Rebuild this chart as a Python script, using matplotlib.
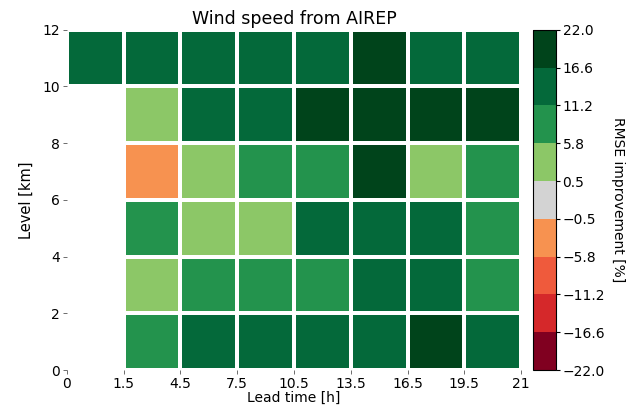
import numpy as np
import matplotlib.pyplot as plt
from matplotlib.colors import ListedColormap, BoundaryNorm

# bin edges (labels) for lead time and level
lead_edges = ['0', '1.5', '4.5', '7.5', '10.5', '13.5', '16.5', '19.5', '21']
level_edges = [0, 2, 4, 6, 8, 10, 12]

# RMSE improvement [%], rows from bottom (0-2 km) to top (10-12 km)
row_0_2 = [np.nan, 8.4, 13.9, 14.2, 13.1, 13.6, 18.3, 13.4]
row_2_4 = [np.nan, 3.9, 8.7, 9.1, 8.2, 12.4, 13.2, 8.8]
row_4_6 = [np.nan, 8.1, 4.2, 3.6, 13.8, 13.0, 12.6, 8.5]
row_6_8 = [np.nan, -2.7, 4.6, 9.2, 8.9, 18.6, 3.8, 8.6]
row_8_10 = [np.nan, 3.4, 14.1, 13.7, 19.2, 19.8, 18.9, 19.4]
row_10_12 = [13.2, 13.8, 14.0, 13.5, 13.3, 17.9, 13.6, 13.9]

bounds = [-22.0, -16.6, -11.2, -5.8, -0.5, 0.5, 5.8, 11.2, 16.6, 22.0]
colors = ['#800020', '#d5282a', '#ef5a3c', '#f79250', '#d3d3d3',
          '#8cc767', '#23934d', '#04693a', '#00441b']

data = np.array([row_0_2, row_2_4, row_4_6, row_6_8, row_8_10, row_10_12])
data = np.ma.masked_invalid(data)

cmap = ListedColormap(colors)
norm = BoundaryNorm(bounds, cmap.N)

fig = plt.figure(figsize=(6.35, 4.08), dpi=100)
ax = fig.add_axes([0.1055, 0.093, 0.715, 0.834])
cax = fig.add_axes([0.839, 0.093, 0.036, 0.834])

mesh = ax.pcolormesh(np.arange(len(lead_edges)), np.arange(len(level_edges)), data,
                     cmap=cmap, norm=norm, edgecolors='white', linewidth=1.5)

ax.set_xticks(np.arange(len(lead_edges)))
ax.set_xticklabels(lead_edges)
ax.set_yticks(np.arange(len(level_edges)))
ax.set_yticklabels([str(v) for v in level_edges])
ax.set_xlim(0, len(lead_edges) - 1)
ax.set_ylim(0, len(level_edges) - 1)
for s in ax.spines.values():
    s.set_visible(False)
ax.tick_params(length=3, width=0.6, color='#555555', labelsize=10, pad=2)

ax.set_title('Wind speed from AIREP', fontsize=12.5, pad=4)
ax.set_xlabel('Lead time [h]', fontsize=10, labelpad=0)
ax.set_ylabel('Level [km]', fontsize=10.5, labelpad=6)

cb = fig.colorbar(mesh, cax=cax, ticks=bounds)
cb.ax.set_yticklabels([('%.1f' % b).replace('-', '\u2212') for b in bounds])
cb.ax.tick_params(labelsize=10, length=3, pad=2)
cb.set_label('RMSE improvement [%]', rotation=270, labelpad=14, fontsize=10)

fig.savefig('out.png', dpi=100)
